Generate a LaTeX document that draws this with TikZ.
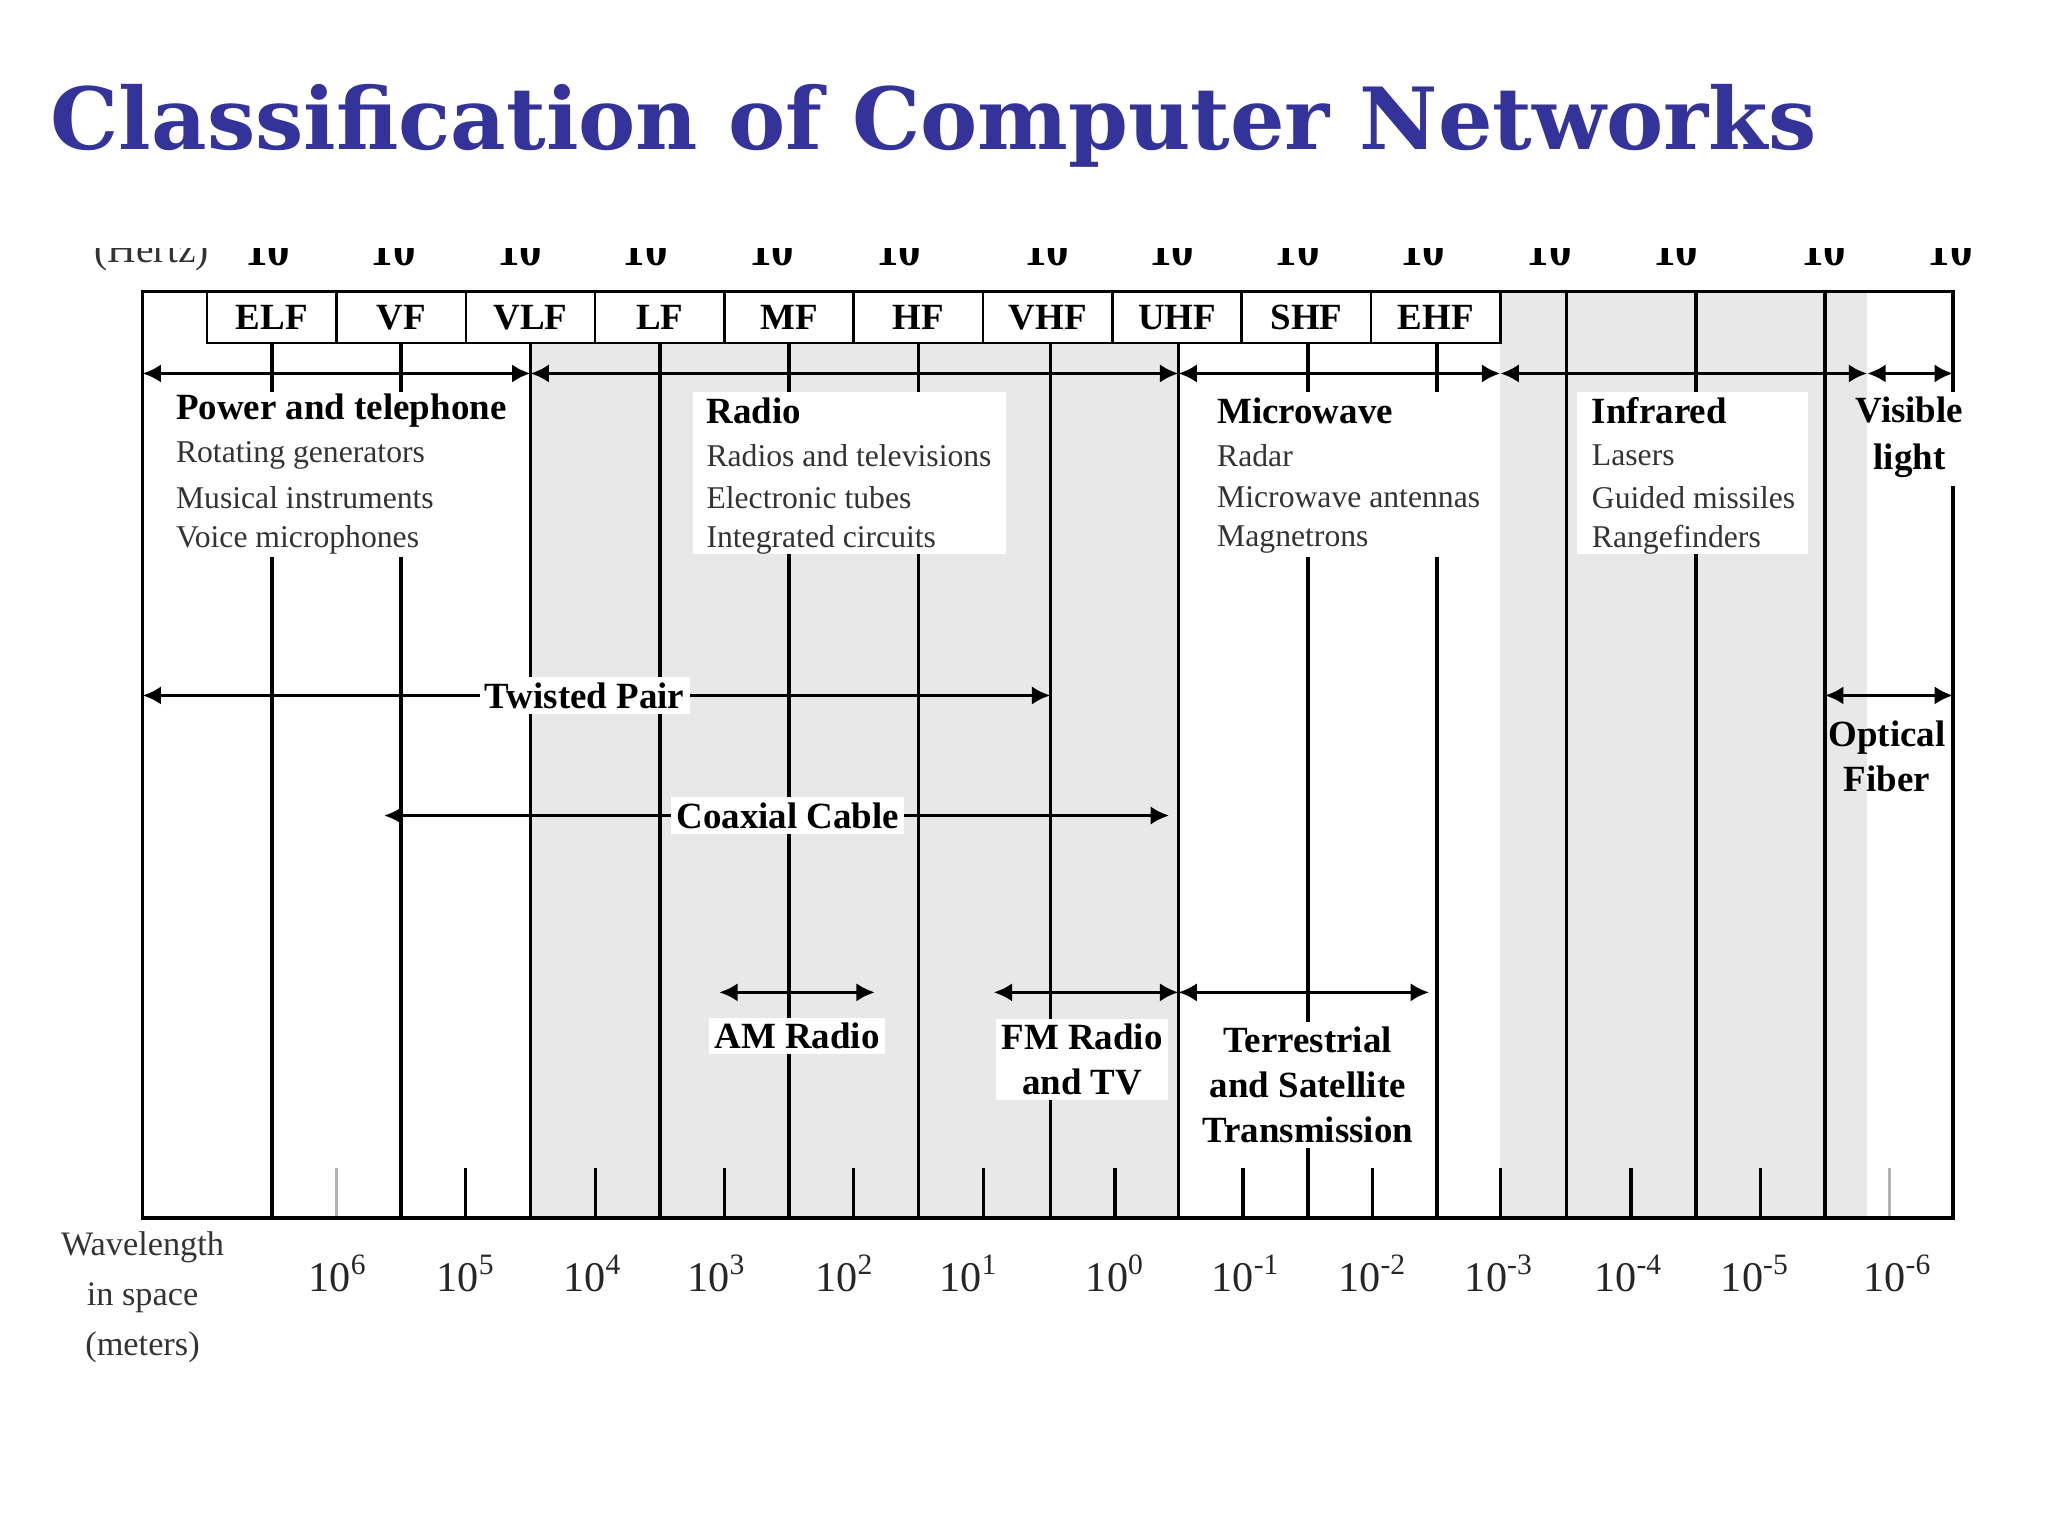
\documentclass[tikz,border=0pt]{standalone}
\usepackage{fontspec}
\setmainfont{Liberation Serif}
\newfontfamily\titlefont{DejaVu Serif}
\usetikzlibrary{arrows.meta}
\definecolor{titleblue}{RGB}{51,51,153}
\definecolor{bggray}{RGB}{232,232,232}
\begin{document}
\begin{tikzpicture}[x=0.5pt,y=-0.5pt,
  vline/.style={line width=1.4pt},
  tick/.style={line width=1.2pt},
  arr/.style={line width=1.4pt,{Latex[length=7pt,width=7pt]}-{Latex[length=7pt,width=7pt]}},
  head/.style={font=\fontsize{14}{16}\selectfont\bfseries,inner sep=1pt},
  item/.style={font=\fontsize{12}{14}\selectfont,text=black!80,inner sep=1pt},
  band/.style={font=\fontsize{14}{16}\selectfont\bfseries,inner sep=0pt},
  lbl/.style={font=\fontsize{14}{18}\selectfont\bfseries,fill=white,inner sep=2pt,align=center},
  expo/.style={font=\fontsize{16}{18}\selectfont,text=black!85},
  wbox/.style={fill=white,draw=none}]
\useasboundingbox (0,0) rectangle (1552,1164);
% title
\node[anchor=base west,inner sep=0pt,text=titleblue,font=\titlefont\fontsize{32.5}{36}\selectfont\bfseries] (title) at (38,113) {Classification of Computer Networks};
% shading
\fill[bggray] (402,260) rectangle (893,923);
\fill[bggray] (1137,221) rectangle (1415,923);
% frequency row (clipped at top)
\begin{scope}
\clip (60,188) rectangle (1500,215);
\node[font=\fontsize{15}{16}\selectfont,text=black!80] (hz) at (115,192) {(Hertz)};
\foreach \x in {203,298,394,489,585,681,793,888,983,1078,1174,1270,1382,1478}
  \node[font=\fontsize{17}{18}\selectfont\bfseries] at (\x,190) {10};
\end{scope}
% vertical lines
\foreach \x in {206,304,402,500,598,696,796,893,991,1089,1187,1285,1383}
  \draw[vline] (\x,260) -- (\x,923);
\draw[vline] (1187,221) -- (1187,260);
\draw[vline] (1285,221) -- (1285,260);
\draw[vline] (1383,221) -- (1383,260);
% bottom ticks
\foreach \x in {353,451,549,647,745,845,942,1040,1137,1236,1334}
  \draw[tick] (\x,885) -- (\x,923);
\foreach \x in {255,1432}
  \draw[tick,black!30] (\x,885) -- (\x,923);
% frame
\draw[vline] (108,221) rectangle (1480,923);
% band boxes
\foreach \x/\t [count=\i] in {157/ELF,255/VF,353/VLF,451/LF,549/MF,647/HF,745/VHF,843/UHF,941/SHF,1039/EHF}
  \draw[line width=1pt,fill=white] (\x,221) rectangle ++(98,39) node[band,midway] (b\i) {\t};
% white text boxes
\fill[wbox] (125,297) rectangle (395,422);
\fill[wbox] (525,297) rectangle (762,420);
\fill[wbox] (912,297) rectangle (1130,422);
\fill[wbox] (1195,297) rectangle (1370,420);
\fill[wbox] (1415,297) rectangle (1490,368);
% top arrows
\foreach \n/\x in {a0/108,a1/402,a2/893,a3/1137,a4/1415,a5/1480} \coordinate (\n) at (\x,283);
\draw[arr] (a0) -- (a1);
\draw[arr] (a1) -- (a2);
\draw[arr] (a2) -- (a3);
\draw[arr] (a3) -- (a4);
\draw[arr] (a4) -- (a5);
% category texts
\node[head,anchor=west] (pt) at (131,311) {Power and telephone};
\node[item,anchor=west] (pt1) at (131,345) {Rotating generators};
\node[item,anchor=west] (pt2) at (131,377) {Musical instruments};
\node[item,anchor=west] (pt3) at (131,409) {Voice microphones};
\node[head,anchor=west] (ra) at (533,311) {Radio};
\node[item,anchor=west] (ra1) at (533,345) {Radios and televisions};
\node[item,anchor=west] (ra2) at (533,377) {Electronic tubes};
\node[item,anchor=west] (ra3) at (533,409) {Integrated circuits};
\node[head,anchor=west] (mw) at (920,311) {Microwave};
\node[item,anchor=west] (mw1) at (920,345) {Radar};
\node[item,anchor=west] (mw2) at (920,377) {Microwave antennas};
\node[item,anchor=west] (mw3) at (920,409) {Magnetrons};
\node[head,anchor=west] (ir) at (1204,311) {Infrared};
\node[item,anchor=west] (ir1) at (1204,345) {Lasers};
\node[item,anchor=west] (ir2) at (1204,377) {Guided missiles};
\node[item,anchor=west] (ir3) at (1204,409) {Rangefinders};
\node[head] (vl1) at (1447,311) {Visible};
\node[head] (vl2) at (1447,349) {light};
% media arrows
\coordinate (tp0) at (108,527); \coordinate (tp1) at (796,527);
\draw[arr] (tp0) -- (tp1);
\node[lbl] (tp) at (443,527) {Twisted Pair};
\coordinate (cx0) at (291,618); \coordinate (cx1) at (886,618);
\draw[arr] (cx0) -- (cx1);
\node[lbl] (cx) at (597,618) {Coaxial Cable};
\coordinate (of0) at (1383,527); \coordinate (of1) at (1480,527);
\draw[arr] (of0) -- (of1);
\node[lbl,fill=none] (of) at (1430,573) {Optical\\[-1pt]Fiber};
\coordinate (am0) at (545,752); \coordinate (am1) at (663,752);
\draw[arr] (am0) -- (am1);
\node[lbl] (am) at (604,785) {AM Radio};
\coordinate (fm0) at (753,752); \coordinate (fm1) at (893,752);
\draw[arr] (fm0) -- (fm1);
\node[lbl] (fm) at (820,803) {FM Radio\\[-1pt]and TV};
\coordinate (ts0) at (893,752); \coordinate (ts1) at (1083,752);
\draw[arr] (ts0) -- (ts1);
\node[lbl] (ts) at (991,822) {Terrestrial\\[-1pt]and Satellite\\[-1pt]Transmission};
% bottom labels
\node[font=\fontsize{13}{19}\selectfont,text=black!80,align=center] (wl) at (108,983) {Wavelength\\in space\\(meters)};
\foreach \x/\e in {256/6,353/5,449/4,543/3,640/2,734/1,845/0,944/{-1},1040/{-2},1136/{-3},1234/{-4},1330/{-5},1438/{-6}}
  \node[expo] at (\x,965) {10\textsuperscript{\e}};
\end{tikzpicture}
\end{document}
